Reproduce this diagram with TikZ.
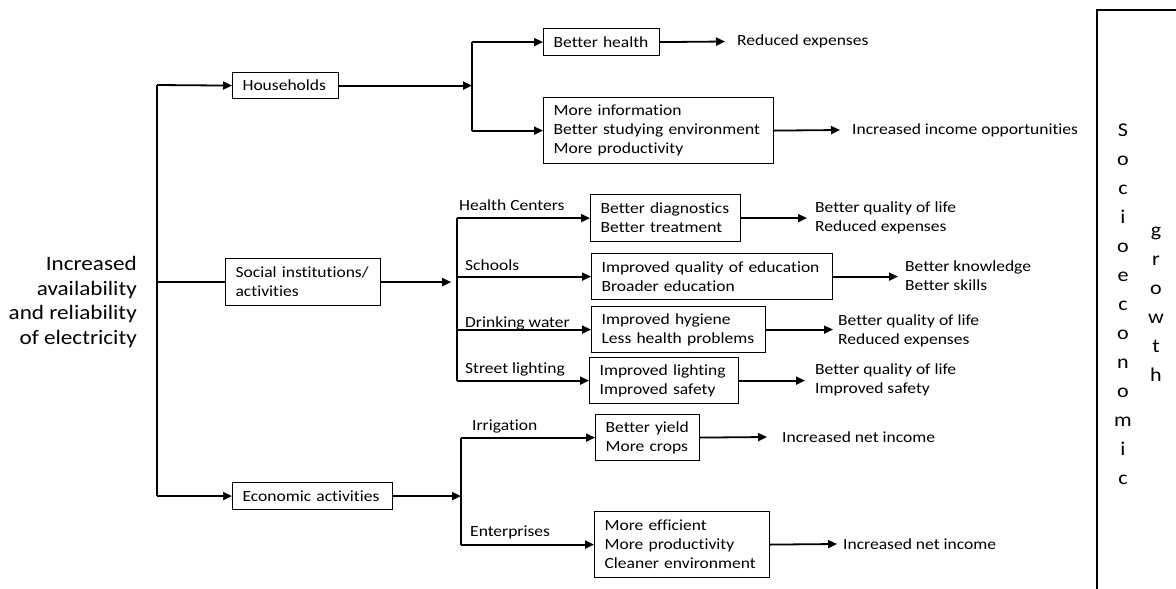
\documentclass[tikz,border=0pt]{standalone}
\usepackage{fontspec}
\setmainfont[FakeStretch=1.13, Ligatures={NoCommon}]{Carlito}
\usetikzlibrary{arrows.meta}
\newcommand\bodyfont{\fontsize{15.5}{19}\selectfont}
\newcommand\bigfont{\fontsize{20.5}{24.5}\selectfont}
\newcommand\sidefont{\fontsize{19.5}{29}\selectfont}
\tikzset{
  conn/.style={line width=1.8pt, black},
  arr/.style={conn, -{Triangle[length=9pt 0 0,width=8pt 0 0]}},
  bx/.style={draw, line width=1.2pt, inner xsep=10pt, inner ysep=0pt, align=left, anchor=north west, font=\bodyfont},
  lbl/.style={inner sep=0pt, anchor=base west, font=\bodyfont},
  outc/.style={inner ysep=0pt, align=left, anchor=west, font=\bodyfont},
}
\begin{document}
\begin{tikzpicture}[x=1pt, y=-1pt]
\useasboundingbox (0,0) rectangle (1176,589);

% left text
\node[inner sep=0pt, align=right, anchor=east, font=\bigfont] (src) at (137,302)
  {Increased\\availability\\and reliability\\of electricity};

% level 1 boxes
\node[bx, text width=86pt, minimum height=26pt] (hh) at (232,72) {Households};
\node[bx, text width=135pt, minimum height=47pt] (soc) at (225,258) {\mbox{Social institutions/}\\activities};
\node[bx, text width=140pt, minimum height=27pt] (eco) at (232,482) {\mbox{Economic activities}};

% trunk
\coordinate (tt) at (157,85);
\draw[conn] (tt) -- (eco.west -| tt);
\draw[arr] (tt) -- (hh.west);
\draw[conn] (soc.west -| tt) -- (soc.west);
\draw[arr] (eco.west -| tt) -- (eco.west);

% households branch
\node[bx, text width=96pt, minimum height=27pt] (bh) at (543,28) {\mbox{Better health}};
\node[bx, text width=210pt, minimum height=66pt] (mi) at (543,97)
  {\mbox{More information}\\\mbox{Better studying environment}\\\mbox{More productivity}};
\coordinate (b1) at (472,85);
\draw[arr] (hh.east) -- (hh.east -| b1);
\draw[conn] (bh.west -| b1) -- (mi.west -| b1);
\draw[arr] (bh.west -| b1) -- (bh.west);
\draw[arr] (mi.west -| b1) -- (mi.west);
\node[outc, inner xsep=12pt] (re1) at (725,41.5) {Reduced expenses};
\node[outc, inner xsep=12pt] (inc) at (840,130) {Increased income opportunities};
\draw[arr] (bh.east) -- (re1.west);
\draw[arr] (mi.east) -- (inc.west);

% social branch
\node[bx, text width=130pt, minimum height=47pt] (dg) at (590,194) {\mbox{Better diagnostics}\\\mbox{Better treatment}};
\node[bx, text width=221pt, minimum height=46pt] (ed) at (591,253) {\mbox{Improved quality of education}\\\mbox{Broader education}};
\node[bx, text width=154pt, minimum height=46pt] (hy) at (591,306) {\mbox{Improved hygiene}\\\mbox{Less health problems}};
\node[bx, text width=129pt, minimum height=46pt] (li) at (589,357) {\mbox{Improved lighting}\\\mbox{Improved safety}};
\coordinate (b2) at (457,281);
\draw[arr] (soc.east) -- ++(70,0) coordinate (b2in);
\draw[conn] (dg.west -| b2) -- (li.west -| b2);
\draw[arr] (dg.west -| b2) -- (dg.west);
\draw[arr] (ed.west -| b2) -- (ed.west);
\draw[arr] (hy.west -| b2) -- (hy.west);
\draw[arr] (li.west -| b2) -- (li.west);
\node[lbl] (lhc) at (459,210) {Health Centers};
\node[lbl] (lsc) at (465,270) {Schools};
\node[lbl] (ldw) at (465,327) {Drinking water};
\node[lbl] (lsl) at (465,373) {Street lighting};
\node[outc, inner xsep=8pt] (o1) at (807,217.5) {Better quality of life\\Reduced expenses};
\node[outc, inner xsep=7pt] (o2) at (898,276) {Better knowledge\\Better skills};
\node[outc, inner xsep=5pt] (o3) at (833,331) {Better quality of life\\Reduced expenses};
\node[outc, inner xsep=10pt] (o4) at (805,380) {Better quality of life\\Improved safety};
\draw[arr] (dg.east) -- (dg.east -| o1.west);
\draw[arr] (ed.east) -- (ed.east -| o2.west);
\draw[arr] (hy.east) -- (hy.east -| o3.west);
\draw[arr] (li.east) -- (li.east -| o4.west);

% economic branch
\node[bx, text width=84pt, minimum height=46pt] (yd) at (595,414) {\mbox{Better yield}\\\mbox{More crops}};
\node[bx, text width=155pt, minimum height=66pt] (ef) at (594,511) {\mbox{More efficient}\\\mbox{More productivity}\\\mbox{Cleaner environment}};
\coordinate (b3) at (461,495);
\draw[arr] (eco.east) -- (eco.east -| b3);
\draw[conn] (yd.west -| b3) -- (ef.west -| b3);
\draw[arr] (yd.west -| b3) -- (yd.west);
\draw[arr] (ef.west -| b3) -- (ef.west);
\node[lbl] (lir) at (472,430) {Irrigation};
\node[lbl] (len) at (470,536) {Enterprises};
\node[outc, inner xsep=15pt] (o5) at (767,437) {Increased net income};
\node[outc, inner xsep=6pt] (o6) at (837,544) {Increased net income};
\draw[arr] (yd.east) -- (o5.west);
\draw[arr] (ef.east) -- (o6.west);

% right frame
\draw[line width=1.2pt] (1097,600) -- (1097,10) -- (1190,10);
\node[inner sep=0pt, align=center, font=\sidefont] (se) at (1123,304)
  {S\\o\\c\\i\\o\\e\\c\\o\\n\\o\\m\\i\\c};
\node[inner sep=0pt, align=center, font=\sidefont] (gr) at (1156,304)
  {g\\r\\o\\w\\t\\h};
\end{tikzpicture}
\end{document}
